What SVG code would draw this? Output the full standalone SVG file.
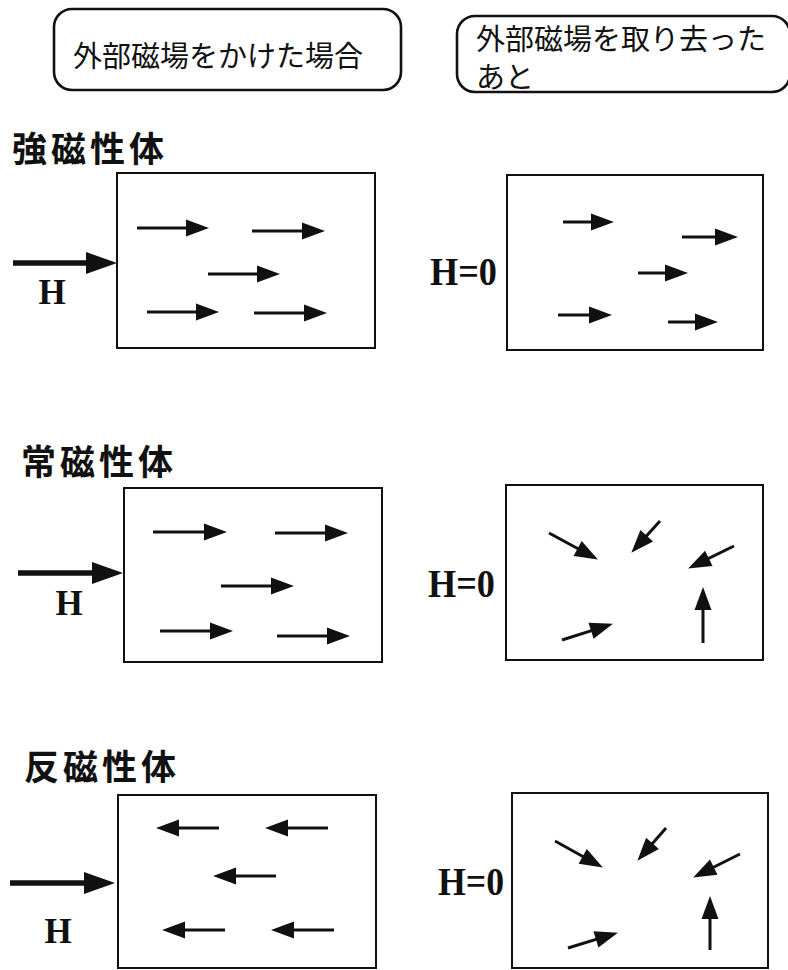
<svg xmlns="http://www.w3.org/2000/svg" width="788" height="970" viewBox="0 0 788 970">
<style>
.hdr{fill:#fff;stroke:#111;stroke-width:2.6}
.hdrt{font-family:"Noto Sans CJK JP","Noto Sans CJK SC",sans-serif;font-size:29px;font-weight:400;fill:#111}
.ttl{font-family:"Noto Sans CJK JP","Noto Sans CJK SC",sans-serif;font-size:35px;font-weight:700;fill:#111;letter-spacing:4px}
.panel{fill:#fff;stroke:#111;stroke-width:2}
.h{font-family:"Liberation Serif","Times New Roman",serif;font-weight:700;font-size:35px;fill:#111;text-anchor:middle}
.h0{font-family:"Liberation Serif","Times New Roman",serif;font-weight:700;font-size:39px;fill:#111}
.m{stroke:#111;stroke-width:3;fill:none;marker-end:url(#ah)}
.big{stroke:#111;stroke-width:5.5;fill:none;marker-end:url(#bh)}
</style>
<defs>
<marker id="ah" markerUnits="userSpaceOnUse" markerWidth="23" markerHeight="17" refX="12" refY="8.5" orient="auto" overflow="visible">
<path d="M0,0 L23,8.5 L0,17 z" fill="#111"/>
</marker>
<marker id="bh" markerUnits="userSpaceOnUse" markerWidth="31" markerHeight="22" refX="19" refY="11" orient="auto" overflow="visible">
<path d="M0,0 L31,11 L0,22 z" fill="#111"/>
</marker>
</defs>
<rect width="788" height="970" fill="#fff"/>

<g id="header-applied">
<rect class="hdr" x="54" y="9" width="347" height="81" rx="18"/>
<text class="hdrt" x="73" y="67">外部磁場をかけた場合</text>
</g>
<g id="header-removed">
<rect class="hdr" x="457" y="16" width="333" height="76" rx="18"/>
<text class="hdrt" x="476" y="50">外部磁場を取り去った</text>
<text class="hdrt" x="476" y="88">あと</text>
</g>

<g id="title-ferro"><text class="ttl" x="12" y="162">強磁性体</text></g>
<g id="title-para"><text class="ttl" x="21" y="475">常磁性体</text></g>
<g id="title-dia"><text class="ttl" x="24" y="780">反磁性体</text></g>

<g id="ferro-applied">
<rect class="panel" x="117" y="173" width="258" height="175"/>
</g>
<g id="ferro-removed">
<rect class="panel" x="507" y="175" width="256" height="175"/>
<text class="h0" x="430" y="285" textLength="67" lengthAdjust="spacingAndGlyphs">H=0</text>
</g>
<g id="para-applied">
<rect class="panel" x="124" y="488" width="258" height="174"/>
</g>
<g id="para-removed">
<rect class="panel" x="506" y="485" width="257" height="175"/>
<text class="h0" x="428" y="597" textLength="67" lengthAdjust="spacingAndGlyphs">H=0</text>
</g>
<g id="dia-applied">
<rect class="panel" x="118" y="795" width="258" height="173"/>
</g>
<g id="dia-removed">
<rect class="panel" x="512" y="793" width="256" height="175"/>
<text class="h0" x="438" y="895" textLength="66" lengthAdjust="spacingAndGlyphs">H=0</text>
</g>

<g id="field-ferro">
<text class="h" x="52" y="304">H</text>
</g>
<g id="field-para">
<text class="h" x="69" y="615">H</text>
</g>
<g id="field-dia">
<text class="h" x="58" y="943">H</text>
</g>

<g id="connectors">
<line class="big" x1="13" y1="263" x2="105" y2="263"/>
<line class="big" x1="18" y1="573" x2="111" y2="573"/>
<line class="big" x1="10" y1="883" x2="103" y2="883"/>

<line class="m" x1="137" y1="228" x2="198" y2="228"/>
<line class="m" x1="252" y1="231" x2="314" y2="231"/>
<line class="m" x1="208" y1="274" x2="269" y2="274"/>
<line class="m" x1="147" y1="312" x2="208" y2="312"/>
<line class="m" x1="254" y1="313" x2="316" y2="313"/>

<line class="m" x1="563" y1="222" x2="603" y2="222"/>
<line class="m" x1="682" y1="237" x2="727" y2="237"/>
<line class="m" x1="638" y1="273" x2="677" y2="273"/>
<line class="m" x1="558" y1="315" x2="601" y2="315"/>
<line class="m" x1="668" y1="322" x2="707" y2="322"/>

<line class="m" x1="153" y1="532" x2="216" y2="532"/>
<line class="m" x1="275" y1="533" x2="337" y2="533"/>
<line class="m" x1="221" y1="586" x2="283" y2="586"/>
<line class="m" x1="160" y1="631" x2="222" y2="631"/>
<line class="m" x1="277" y1="636" x2="339" y2="636"/>

<line class="m" x1="549" y1="533" x2="588.2" y2="554.2"/>
<line class="m" x1="660" y1="521" x2="638.7" y2="544.6"/>
<line class="m" x1="734" y1="546" x2="698" y2="563.6"/>
<line class="m" x1="703" y1="643" x2="703" y2="598"/>
<line class="m" x1="562" y1="640" x2="602.5" y2="627.1"/>

<line class="m" x1="219" y1="828" x2="167" y2="828"/>
<line class="m" x1="328" y1="828" x2="276" y2="828"/>
<line class="m" x1="276" y1="876" x2="224" y2="876"/>
<line class="m" x1="225" y1="930" x2="173" y2="930"/>
<line class="m" x1="334" y1="930" x2="282" y2="930"/>

<line class="m" x1="555" y1="841" x2="593.2" y2="862.2"/>
<line class="m" x1="666" y1="828" x2="644.6" y2="852.5"/>
<line class="m" x1="740" y1="854" x2="703" y2="872.5"/>
<line class="m" x1="710" y1="950" x2="710" y2="907"/>
<line class="m" x1="568" y1="948" x2="607.4" y2="935.9"/>
</g>
</svg>
